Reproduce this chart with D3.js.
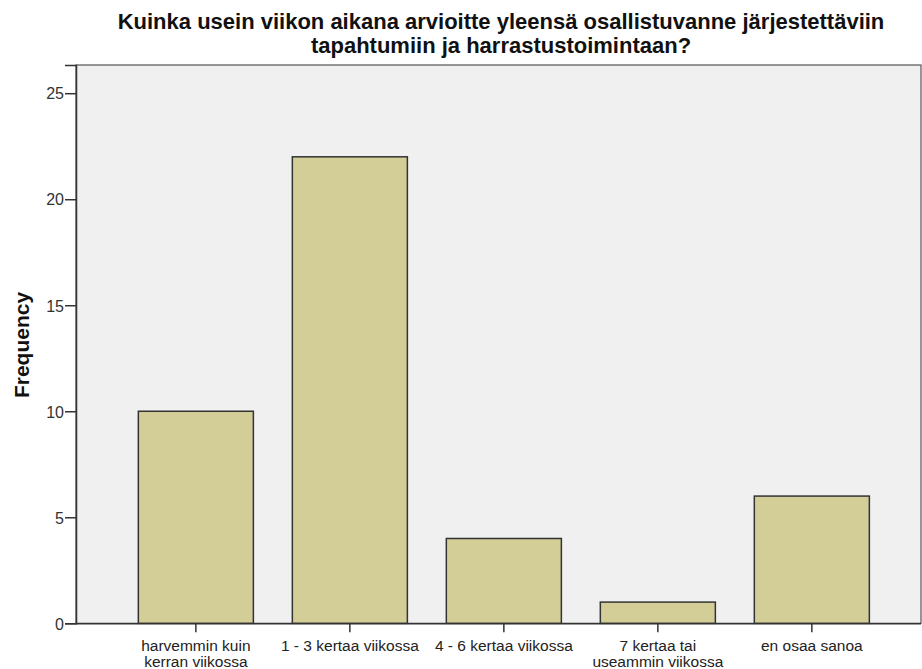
<!DOCTYPE html>
<html><head><meta charset="utf-8">
<script src="https://cdn.jsdelivr.net/npm/d3@7"></script>
<style>body{margin:0;background:#fff}svg{display:block}text{font-family:"Liberation Sans",Arial,sans-serif}</style>
</head><body><svg id="c" width="922" height="669"></svg>
<script>
const categories = [["harvemmin kuin","kerran viikossa"],["1 - 3 kertaa viikossa"],["4 - 6 kertaa viikossa"],["7 kertaa tai","useammin viikossa"],["en osaa sanoa"]];
const frequencies = [10, 22, 4, 1, 6];
const yTicks = [0, 5, 10, 15, 20, 25];
const titleLines = ["Kuinka usein viikon aikana arvioitte yleensä osallistuvanne järjestettäviin","tapahtumiin ja harrastustoimintaan?"];
const yLabel = "Frequency";

const svg = d3.select("#c");
const L = 76, R = 921, T = 65, B = 623.3;
const keys = categories.map(c => c.join(" "));
const x = d3.scaleBand().domain(keys).range([100, 907.7]).paddingInner(0.253).paddingOuter(0.249);
const y = d3.scaleLinear().domain([0, 26.33]).range([B, T]);

svg.append("rect").attr("x", L).attr("y", T).attr("width", R - L).attr("height", B - T)
  .attr("fill", "#F0F0F0").attr("stroke", "#555").attr("stroke-width", 1.2);

svg.selectAll("rect.bar").data(frequencies).join("rect").attr("class","bar")
  .attr("x", (d,i) => x(keys[i])).attr("width", x.bandwidth())
  .attr("y", d => y(d)).attr("height", d => B - y(d))
  .attr("fill", "#D3CE98").attr("stroke", "#333").attr("stroke-width", 1.5);

// y axis
const ya = svg.append("g").attr("transform", `translate(${L},0)`)
  .call(d3.axisLeft(y).tickValues(yTicks).tickSize(11).tickPadding(1).tickFormat(d3.format("d")));
ya.select(".domain").attr("stroke", "#333").attr("stroke-width", 1.5);
ya.selectAll(".tick line").attr("stroke", "#333").attr("stroke-width", 1.5);
ya.selectAll(".tick text").attr("font-size", 16).attr("fill", "#333").attr("font-family", "Liberation Sans, Arial, sans-serif").attr("dy", "0.36em");

// x axis
const xa = svg.append("g").attr("transform", `translate(0,${B})`)
  .call(d3.axisBottom(x).tickSize(9).tickFormat(""));
xa.select(".domain").attr("d", `M${L},0.5H${R}`).attr("stroke", "#333").attr("stroke-width", 1.5);
xa.selectAll(".tick line").attr("stroke", "#333").attr("stroke-width", 1.5);
xa.selectAll(".tick").each(function(d, i) {
  const t = d3.select(this).append("text").attr("fill", "#222").attr("font-size", 15.5)
    .attr("text-anchor", "middle").attr("font-family", "Liberation Sans, Arial, sans-serif");
  categories[i].forEach((line, j) => t.append("tspan").attr("x", 0).attr("y", 28 + j * 16).text(line));
});

// y label
svg.append("text").attr("transform", `translate(29,345) rotate(-90)`)
  .attr("text-anchor", "middle").attr("font-weight", "bold").attr("font-size", 21).attr("fill", "#111").text(yLabel);

// title
titleLines.forEach((t, i) => svg.append("text").attr("x", 501).attr("y", 29 + i * 23.5)
  .attr("text-anchor", "middle").attr("font-weight", "bold").attr("font-size", 22).attr("fill", "#111").text(t));
</script></body></html>
